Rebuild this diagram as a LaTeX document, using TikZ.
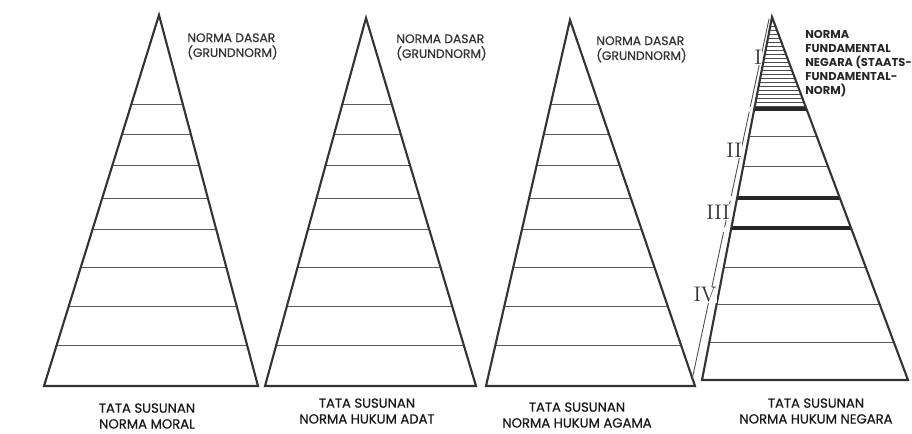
\documentclass[tikz,border=0pt]{standalone}
\usepackage{fontspec}
\setsansfont{Poppins}
\newfontfamily\labelfont{Poppins}[FakeBold=0.5]
\usetikzlibrary{calc}

\newcommand*{\rungs}{104,134,165,198,229,267,306,345}
\newcommand*{\baseY}{386}

\begin{document}
\begin{tikzpicture}
[
	x=0.02cm, y=-0.02cm,
	edge/.style={line width=1.2pt, line join=miter, draw=black!80},
	rung/.style={line width=0.5pt, draw=black!65},
	heavy/.style={line width=1.8pt, draw=black!85},
	hatch/.style={line width=0.4pt, draw=black!70},
	bracket/.style={line width=0.5pt, draw=black!70},
	toplabel/.style={font=\labelfont\fontsize{7}{8.5}\selectfont, align=left, anchor=north west, inner sep=0pt, text=black!80},
	boldlabel/.style={font=\sffamily\bfseries\fontsize{6.5}{7.9}\selectfont, align=left, anchor=north west, inner sep=0pt, text=black!85},
	caption/.style={font=\labelfont\fontsize{7.5}{9}\selectfont, align=center, inner sep=0pt, text=black!90},
	numeral/.style={font=\rmfamily\fontsize{12}{12}\selectfont, fill=white, inner sep=0.3pt, text=black!80}
]
	\useasboundingbox (0,0) rectangle (912,433);

	% three ordinary pyramids
	\foreach \name/\tx/\ty/\lx/\rx/\nx/\ny/\cx/\cy/\what in
	  {moral/159/15/44/258/187/33/147/416/NORMA MORAL,
	   adat/366/18/265/476/396/34/367/411/NORMA HUKUM ADAT,
	   agama/570/20/486/695/596/36/577/415/NORMA HUKUM AGAMA} {
		\coordinate (\name-top) at (\tx,\ty);
		\coordinate (\name-left) at (\lx,\baseY);
		\coordinate (\name-right) at (\rx,\baseY);
		\begin{scope}
			\clip (\name-top) -- (\name-left) -- (\name-right) -- cycle;
			\foreach \y in \rungs {
				\draw[rung] (0,\y) -- (912,\y);
			}
		\end{scope}
		\draw[edge] (\name-top) -- (\name-left) -- (\name-right) -- cycle;
		\node[toplabel] (\name-grund) at (\nx,\ny) {NORMA DASAR\\(GRUNDNORM)};
		\node[caption] (\name-caption) at (\cx,\cy) {TATA SUSUNAN\\\what};
	}

	% negara pyramid
	\coordinate (negara-top) at (772,17);
	\coordinate (negara-left) at (702,380);
	\coordinate (negara-right) at (908,380);
	\begin{scope}
		\clip (negara-top) -- (negara-left) -- (negara-right) -- cycle;
		\foreach \y in {26,30,...,106} {
			\draw[hatch] (0,\y) -- (912,\y);
		}
		\foreach \y in {136,166,267,304,342} {
			\draw[rung] (0,\y) -- (912,\y);
		}
		\foreach \y in {109,198,228} {
			\draw[heavy] (0,\y) -- (912,\y);
		}
	\end{scope}
	\draw[edge] (negara-top) -- (negara-left) -- (negara-right) -- cycle;

	% brackets I-IV
	\coordinate (brk-top) at (769,19);
	\coordinate (brk-bot) at (692,380);
	\foreach \a/\b in {0/0.243, 0.257/0.49, 0.503/0.577, 0.59/1} {
		\draw[bracket] ($(brk-top)!\a!(brk-bot)$) -- ($(brk-top)!\b!(brk-bot)$);
	}
	\node[numeral] (num-i) at (758,57) {I};
	\node[numeral] (num-ii) at (734,150) {II};
	\node[numeral] (num-iii) at (718,212) {III};
	\node[numeral] (num-iv) at (705,295) {IV};

	\node[boldlabel] (negara-grund) at (805,30)
	  {NORMA\\FUNDAMENTAL\\NEGARA (STAATS-\\FUNDAMENTAL-\\NORM)};
	\node[caption] (negara-caption) at (816,411) {TATA SUSUNAN\\NORMA HUKUM NEGARA};

\end{tikzpicture}
\end{document}
